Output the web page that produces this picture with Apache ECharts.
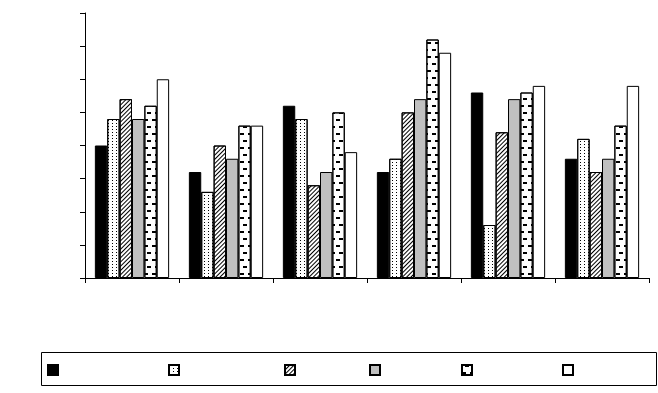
<!DOCTYPE html>
<html>
<head>
<meta charset="utf-8">
<script src="https://cdn.jsdelivr.net/npm/echarts@6/dist/echarts.min.js"></script>
<style>
html,body{margin:0;padding:0;background:#fff;}
#c{width:658px;height:393px;}
</style>
</head>
<body>
<div id="c"></div>
<script>
var categories = ['A', 'B', 'C', 'D', 'E', 'F'];
var seriesNames = ['S1', 'S2', 'S3', 'S4', 'S5', 'S6'];
var s1 = [4.0, 3.2, 5.2, 3.2, 5.6, 3.6];
var s2 = [4.8, 2.6, 4.8, 3.6, 1.6, 4.2];
var s3 = [5.4, 4.0, 2.8, 5.0, 4.4, 3.2];
var s4 = [4.8, 3.6, 3.2, 5.4, 5.4, 3.6];
var s5 = [5.2, 4.6, 5.0, 7.2, 5.6, 4.6];
var s6 = [6.0, 4.6, 3.8, 6.8, 5.8, 5.8];
var yTicks = [0, 1, 2, 3, 4, 5, 6, 7, 8];

var values = [s1, s2, s3, s4, s5, s6];
var fills = ['#000000', '#ffffff', '#ffffff', '#c0c0c0', '#ffffff', '#ffffff'];
var decals = [
  null,
  {symbol: 'rect', symbolSize: 1, color: '#000', dashArrayX: [1, 3], dashArrayY: [1, 2]},
  {symbol: 'rect', symbolSize: 1, color: '#000', dashArrayX: [1, 0], dashArrayY: [1, 2], rotation: -Math.PI / 4},
  null,
  {symbol: 'rect', symbolSize: 1, color: '#000', dashArrayX: [[4, 4], [0, 3, 4, 1]], dashArrayY: [1.5, 4.5]},
  null
];
var legendX = [47, 168, 284, 369, 461, 562];

var chart = echarts.init(document.getElementById('c'), null, {renderer: 'canvas'});
var series = seriesNames.map(function (n, i) {
  var st = {color: fills[i], borderColor: '#000', borderWidth: 1};
  if (decals[i]) st.decal = decals[i];
  return {
    name: n, type: 'bar', data: values[i],
    barGap: '0%', barCategoryGap: '21%',
    itemStyle: st, animation: false
  };
});
var legends = seriesNames.map(function (n, i) {
  return {
    data: [n], left: legendX[i], top: 364, itemWidth: 10, itemHeight: 10,
    icon: 'rect', formatter: function () { return ''; }, padding: 0,
    selectedMode: false, textStyle: {fontSize: 1}
  };
});
chart.setOption({
  backgroundColor: '#fff',
  animation: false,
  grid: {left: 85, right: 9, top: 13, bottom: 115},
  legend: legends,
  xAxis: {
    type: 'category', data: categories, boundaryGap: true,
    axisLine: {lineStyle: {color: '#000', width: 1}},
    axisTick: {show: true, length: 5, alignWithLabel: false, lineStyle: {color: '#000'}},
    axisLabel: {show: false}
  },
  yAxis: {
    type: 'value', min: yTicks[0], max: yTicks[yTicks.length - 1], interval: 1,
    axisLine: {show: true, lineStyle: {color: '#000', width: 1}},
    axisTick: {show: true, length: 5, lineStyle: {color: '#000'}},
    axisLabel: {show: false},
    splitLine: {show: false}
  },
  graphic: [{
    type: 'rect', shape: {x: 41.5, y: 352.5, width: 615, height: 33},
    style: {fill: 'none', stroke: '#000', lineWidth: 1}, z: -1
  }],
  series: series
});
</script>
</body>
</html>
